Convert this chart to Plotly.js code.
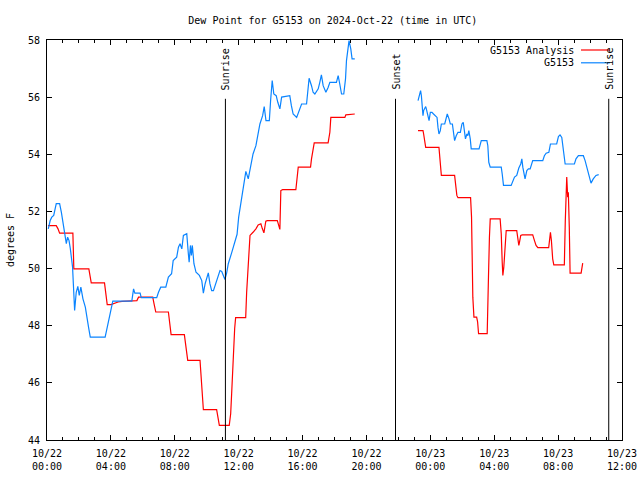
<!DOCTYPE html>
<html>
<head>
<meta charset="utf-8">
<script src="https://cdn.plot.ly/plotly-3.0.1.min.js"></script>
<style>html,body{margin:0;padding:0;background:#fff}#chart{width:640px;height:480px}</style>
</head>
<body>
<div id="chart"></div>
<script>
// Hours after 2024-10-22 00:00 UTC, and dew point (deg F)
var obsHours1 = [0.08,0.2,0.3,0.42,0.58,0.79,0.9,1.0,1.1,1.21,1.29,1.38,1.46,1.6,1.65,1.73,1.83,1.93,2.02,2.12,2.25,2.4,2.6,2.71,3.64,3.95,4.12,5.31,5.42,5.5,5.83,5.9,6.87,6.98,7.12,7.44,7.5,7.6,7.8,7.9,8.12,8.23,8.33,8.44,8.54,8.75,8.85,8.9,8.98,9.04,9.1,9.2,9.33,9.54,9.69,9.79,9.9,10.0,10.1,10.2,10.31,10.42,10.58,10.73,10.83,10.94,11.04,11.14,11.25,11.35,11.56,11.77,11.9,12.0,12.08,12.25,12.39,12.45,12.6,12.71,12.81,12.9,13.08,13.23,13.33,13.5,13.6,13.71,13.92,14.0,14.1,14.2,14.35,14.45,14.58,14.69,15.2,15.3,15.41,15.63,15.83,15.94,16.25,16.31,16.41,16.56,16.66,16.77,16.98,17.08,17.18,17.29,17.46,17.6,17.71,18.12,18.23,18.33,18.44,18.58,18.69,18.75,18.85,18.91,19.02,19.1,19.27];
var obsVals1 = [51.39,51.68,51.8,51.86,52.27,52.27,51.97,51.57,51.22,50.87,51.1,50.98,50.7,50.05,49.47,48.53,49.17,49.38,49.06,49.35,48.94,48.65,47.95,47.6,47.6,48.47,48.86,48.86,49.29,49.14,49.14,48.98,48.98,49.17,49.35,49.35,49.52,49.7,49.82,50.28,50.4,50.75,50.87,50.69,51.16,51.22,50.52,50.22,50.81,50.46,50.81,50.17,49.87,49.76,49.58,49.14,49.47,49.7,49.85,49.47,49.23,49.23,49.52,49.82,49.93,49.9,49.76,49.62,49.85,50.17,50.55,50.98,51.2,51.8,52.09,52.79,53.26,53.4,53.14,53.49,53.84,54.01,54.3,54.77,55.06,55.35,55.67,55.18,55.18,55.88,56.58,56.11,56.05,55.82,55.59,56.0,56.05,55.7,55.41,55.29,55.64,55.76,55.76,56.23,56.66,56.4,56.17,56.11,56.29,56.52,56.78,56.4,56.17,56.34,56.52,56.52,56.75,56.46,56.11,56.11,56.64,57.28,57.8,57.98,57.69,57.34,57.34];
var obsHours2 = [23.23,23.32,23.39,23.44,23.5,23.54,23.58,23.71,23.75,23.85,23.92,24.0,24.1,24.2,24.33,24.42,24.48,24.54,24.62,24.69,24.9,25.0,25.06,25.17,25.25,25.38,25.46,25.52,25.62,25.73,25.88,25.98,26.06,26.12,26.2,26.29,26.35,26.41,26.5,26.56,27.05,27.19,27.54,27.6,27.66,27.75,28.44,28.5,28.58,29.06,29.17,29.27,29.41,29.54,29.66,29.73,29.79,29.93,30.04,30.14,30.25,30.41,31.04,31.14,31.25,31.42,31.52,31.91,32.02,32.12,32.23,32.33,32.44,33.02,33.12,33.27,33.58,33.69,33.81,33.96,34.06,34.2,34.37,34.54];
var obsVals2 = [55.88,56.05,56.23,56.05,55.53,55.35,55.53,55.67,55.59,55.29,55.18,55.47,55.47,55.41,55.35,55.29,54.94,54.71,54.82,55.06,55.06,55.35,55.41,55.24,55.06,55.06,54.71,54.48,54.65,54.77,54.77,55.06,55.12,54.89,54.54,54.71,54.65,54.83,54.54,54.19,54.19,54.48,54.48,54.3,53.72,53.55,53.55,53.31,52.91,52.91,53.08,53.2,53.26,53.52,53.66,53.84,53.55,53.14,53.43,53.49,53.49,53.78,53.78,53.95,54.04,54.07,54.36,54.36,54.62,54.68,54.59,54.13,53.66,53.66,53.84,53.95,53.95,53.78,53.49,53.2,52.99,53.14,53.26,53.29];
var anaHours1 = [0.06,0.58,0.69,0.79,1.62,1.68,2.62,2.7,2.77,3.6,3.68,3.77,4.0,4.2,4.45,4.7,5.31,5.63,5.73,6.62,6.7,6.81,7.6,7.67,7.77,8.6,8.69,8.81,9.58,9.69,9.79,10.62,10.7,10.79,11.41,11.5,11.56,11.62,11.66,11.75,11.81,12.44,12.5,12.6,12.71,12.9,13.08,13.22,13.39,13.48,13.58,13.7,13.79,14.42,14.58,14.64,14.75,15.58,15.66,15.73,16.5,16.56,16.73,17.6,17.71,17.77,18.65,18.71,19.27];
var anaVals1 = [51.5,51.5,51.39,51.24,51.24,49.99,49.99,49.76,49.5,49.5,49.17,48.74,48.74,48.79,48.83,48.85,48.88,48.88,49.0,49.0,48.77,48.48,48.48,48.13,47.69,47.69,47.25,46.79,46.79,45.91,45.06,45.06,44.8,44.51,44.51,44.92,45.62,46.38,47.14,47.9,48.28,48.28,49.17,50.28,51.16,51.27,51.39,51.53,51.57,51.4,51.25,51.66,51.68,51.68,51.37,52.73,52.76,52.76,53.14,53.55,53.55,53.84,54.4,54.4,54.77,55.29,55.29,55.38,55.41];
var anaHours2 = [23.23,23.54,23.58,23.65,23.71,24.54,24.62,24.69,25.52,25.58,25.66,25.73,26.52,26.58,26.62,26.66,26.73,26.9,26.96,27.02,27.56,27.6,27.64,27.7,27.75,28.37,28.44,28.5,28.54,28.6,28.64,28.7,28.75,29.41,29.48,29.54,29.58,29.66,29.75,30.41,30.52,30.62,30.73,31.41,31.46,31.52,31.58,31.62,31.66,31.73,32.39,32.45,32.5,32.54,32.6,32.64,32.7,32.72,32.75,33.44,33.5,33.54];
var anaVals2 = [54.83,54.83,54.71,54.48,54.24,54.24,53.78,53.26,53.26,52.85,52.56,52.48,52.48,51.8,50.4,49.0,48.3,48.3,48.13,47.72,47.72,48.42,49.7,51.1,51.74,51.74,51.22,50.22,49.76,50.05,50.52,51.1,51.33,51.33,51.1,50.81,50.92,51.16,51.18,51.18,50.98,50.81,50.73,50.73,50.98,51.27,50.98,50.63,50.34,50.13,50.13,51.68,52.38,53.2,52.5,52.67,51.45,50.42,49.84,49.84,50.05,50.19];
var sunEventHours = [11.17, 21.82, 35.17];
var sunEventLabels = ["Sunrise", "Sunset", "Sunrise"];
var seriesNames = ["G5153 Analysis", "G5153"];
var seriesColors = ["#ff0000", "#0a84ff"];

var BASE = Date.UTC(2024, 9, 22, 0, 0, 0);
function toDate(h) {
  return new Date(BASE + Math.round(h * 3600000)).toISOString().slice(0, 19).replace('T', ' ');
}
function joinSegments(h1, v1, h2, v2) {
  var x = h1.map(toDate), y = v1.slice();
  x.push(toDate((h1[h1.length - 1] + h2[0]) / 2)); y.push(null);
  return {x: x.concat(h2.map(toDate)), y: y.concat(v2)};
}
var ana = joinSegments(anaHours1, anaVals1, anaHours2, anaVals2);
var obs = joinSegments(obsHours1, obsVals1, obsHours2, obsVals2);

var FONT = "DejaVu Sans Mono, monospace";
var traces = [
  {x: ana.x, y: ana.y, name: seriesNames[0], type: 'scatter', mode: 'lines', connectgaps: false,
   line: {color: seriesColors[0], width: 1.2}},
  {x: obs.x, y: obs.y, name: seriesNames[1], type: 'scatter', mode: 'lines', connectgaps: false,
   line: {color: seriesColors[1], width: 1.2}}
];

var shapes = [], annotations = [];
sunEventHours.forEach(function (h, i) {
  shapes.push({type: 'line', xref: 'x', yref: 'paper', x0: toDate(h), x1: toDate(h), y0: 0, y1: 0.853,
               line: {color: '#000', width: 1}});
  annotations.push({xref: 'x', yref: 'paper', x: toDate(h), y: 0.87, text: sunEventLabels[i], textangle: -90,
                    showarrow: false, xanchor: 'center', yanchor: 'bottom', font: {family: FONT, size: 10, color: '#000'}});
});
// legend (text left of line sample, as in the reference)
[0, 1].forEach(function (i) {
  var yy = i === 0 ? 0.975 : 0.943;
  annotations.push({xref: 'paper', yref: 'paper', x: 0.92, y: yy, text: seriesNames[i], showarrow: false,
                    xanchor: 'right', yanchor: 'middle', font: {family: FONT, size: 10, color: '#000'}});
  shapes.push({type: 'line', xref: 'paper', yref: 'paper', x0: 0.9287, x1: 0.979, y0: yy, y1: yy,
               line: {color: seriesColors[i], width: 1.2}});
});

var layout = {
  width: 640, height: 480,
  margin: {l: 47, r: 18, t: 40, b: 40},
  paper_bgcolor: '#fff', plot_bgcolor: '#fff',
  showlegend: false,
  font: {family: FONT, size: 10, color: '#000'},
  title: {text: 'Dew Point for G5153 on 2024-Oct-22 (time in UTC)', font: {family: FONT, size: 10, color: '#000'},
          x: 0.52, xref: 'container', y: 0.958, yanchor: 'middle'},
  xaxis: {type: 'date', range: [toDate(0), toDate(36)], tick0: toDate(0), dtick: 4 * 3600000,
          tickformat: '%m/%d<br>%H:%M', ticks: 'inside', ticklen: 5, tickcolor: '#000', showgrid: false, zeroline: false,
          showline: true, linecolor: '#000', linewidth: 1, mirror: 'ticks', ticklabelstandoff: 4,
          minor: {dtick: 3600000, ticks: 'inside', ticklen: 3, tickcolor: '#000', showgrid: false},
          tickfont: {family: FONT, size: 10, color: '#000'}},
  yaxis: {range: [44, 58], dtick: 2, tick0: 44, ticks: 'inside', ticklen: 5, tickcolor: '#000', showgrid: false, zeroline: false,
          showline: true, linecolor: '#000', linewidth: 1, mirror: 'ticks', ticklabelstandoff: 4,
          tickfont: {family: FONT, size: 10, color: '#000'},
          title: {text: 'degrees F', font: {family: FONT, size: 10, color: '#000'}, standoff: 11}},
  shapes: shapes,
  annotations: annotations
};
Plotly.newPlot('chart', traces, layout, {staticPlot: true, displayModeBar: false});
</script>
</body>
</html>
